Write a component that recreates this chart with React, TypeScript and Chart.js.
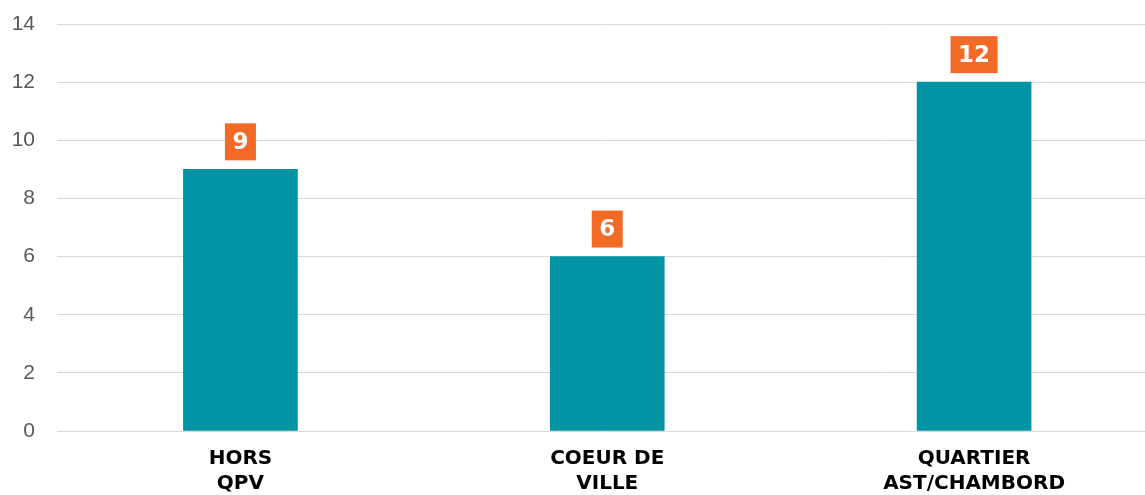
import React, { useEffect, useRef } from "react";
import { Chart, registerables } from "chart.js";

Chart.register(...registerables);

const categories: string[][] = [["HORS", "QPV"], ["COEUR DE", "VILLE"], ["QUARTIER", "AST/CHAMBORD"]];
const values: number[] = [9, 6, 12];
const yTicks: number[] = [0, 2, 4, 6, 8, 10, 12, 14];

const BAR_COLOR = "#0094A4";
const LABEL_BG = "#F26A26";

const valueBoxes = {
  id: "valueBoxes",
  afterDatasetsDraw(chart: any) {
    const ctx = chart.ctx;
    const meta = chart.getDatasetMeta(0);
    ctx.save();
    ctx.font = 'bold 23px "DejaVu Sans"';
    meta.data.forEach((bar: any, i: number) => {
      const text = String(values[i]);
      const w = ctx.measureText(text).width + 15;
      const h = 37;
      const bottom = bar.y - 9;
      ctx.fillStyle = LABEL_BG;
      ctx.fillRect(bar.x - w / 2, bottom - h, w, h);
      ctx.fillStyle = "#ffffff";
      ctx.textAlign = "center";
      ctx.textBaseline = "middle";
      ctx.fillText(text, bar.x, bottom - h / 2 + 1);
    });
    ctx.restore();
  },
};

export default function App() {
  const ref = useRef<HTMLCanvasElement | null>(null);
  useEffect(() => {
    if (!ref.current) return;
    const chart = new Chart(ref.current, {
      type: "bar",
      data: {
        labels: categories,
        datasets: [
          {
            data: values,
            backgroundColor: BAR_COLOR,
            barThickness: 114,
          },
        ],
      },
      options: {
        animation: false,
        responsive: false,
        layout: { padding: { top: 24, right: 2.5, left: 0, bottom: 0 } },
        plugins: { legend: { display: false }, tooltip: { enabled: false } },
        scales: {
          x: {
            grid: { display: false, drawTicks: false },
            border: { display: true, color: "#D9D9D9", width: 1 },
            ticks: {
              color: "#000000",
              font: { family: '"DejaVu Sans"', size: 20, weight: "bold", lineHeight: 1.25 },
              padding: 15,
              maxRotation: 0,
              autoSkip: false,
            },
            afterFit: (s: any) => {
              s.height = 64;
              s.paddingLeft = 0;
              s.paddingRight = 0;
            },
          },
          y: {
            min: 0,
            max: 14,
            afterBuildTicks: (s: any) => {
              s.ticks = yTicks.map((v) => ({ value: v }));
            },
            grid: { color: "#D9D9D9", lineWidth: 1, drawTicks: false },
            border: { display: false },
            ticks: {
              color: "#595959",
              font: { family: '"Liberation Sans"', size: 21 },
              padding: 22,
            },
            afterFit: (s: any) => {
              s.width = 57;
              s.paddingTop = 0;
              s.paddingBottom = 0;
            },
          },
        },
      },
      plugins: [valueBoxes],
    });
    return () => chart.destroy();
  }, []);
  return (
    <div
      style={{
        position: "fixed",
        left: 0,
        top: 0,
        width: 1145,
        height: 495,
        overflow: "hidden",
        background: "#ffffff",
      }}
    >
      <canvas ref={ref} width={1160} height={495} />
    </div>
  );
}
